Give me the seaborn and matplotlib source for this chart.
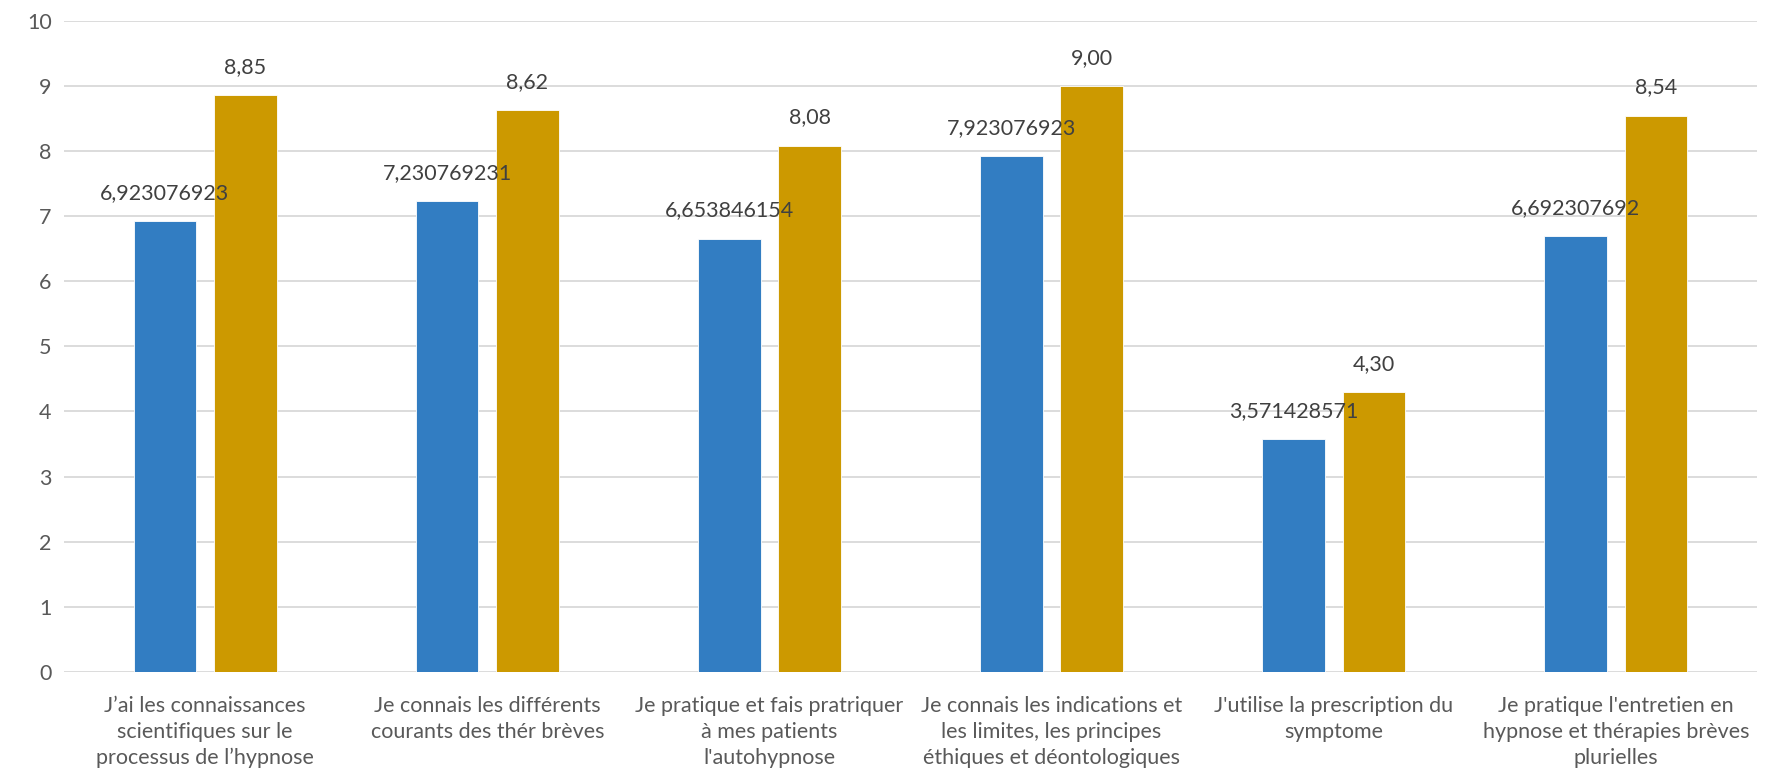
import seaborn as sns
import matplotlib.pyplot as plt
import pandas as pd

categories = [
    "J’ai les connaissances\nscientifiques sur le\nprocessus de l’hypnose",
    "Je connais les différents\ncourants des thér brèves",
    "Je pratique et fais pratriquer\nà mes patients\nl'autohypnose",
    "Je connais les indications et\nles limites, les principes\néthiques et déontologiques",
    "J'utilise la prescription du\nsymptome",
    "Je pratique l'entretien en\nhypnose et thérapies brèves\nplurielles",
]
series_1 = [6.923076923, 7.230769231, 6.653846154, 7.923076923, 3.571428571, 6.692307692]
series_2 = [8.85, 8.62, 8.08, 9.00, 4.30, 8.54]
series_names = ["Série 1", "Série 2"]

df = pd.DataFrame({
    "categorie": categories * 2,
    "valeur": series_1 + series_2,
    "serie": [series_names[0]] * len(categories) + [series_names[1]] * len(categories),
})

sns.set_style("white")
plt.rcParams["font.family"] = ["Lato", "DejaVu Sans"]
text_color = "#595959"

fig = plt.figure(figsize=(17.8, 7.75), dpi=100)
ax = fig.add_axes([0.036, 0.133, 0.951, 0.8405])

sns.barplot(data=df, x="categorie", y="valeur", hue="serie",
            palette=["#327DC2", "#CC9900"], saturation=1, width=0.57, gap=0.22,
            edgecolor="white", linewidth=0.6, legend=False, ax=ax)

ax.set_ylim(0, 10)
ax.set_xlim(-0.5, len(categories) - 0.5)
ax.set_yticks(range(0, 11))
ax.yaxis.grid(True, color="#D9D9D9", linewidth=1.3)
ax.set_axisbelow(True)
for s in ax.spines.values():
    s.set_visible(False)
ax.set_xlabel("")
ax.set_ylabel("")
ax.tick_params(axis="y", length=0, pad=9, labelsize=15.5, labelcolor=text_color)
ax.tick_params(axis="x", length=0, pad=17, labelsize=15.5, labelcolor=text_color)
for lbl in ax.get_xticklabels():
    lbl.set_linespacing(1.38)

labels_1 = [f"{v:.9f}".replace(".", ",") for v in series_1]
labels_2 = [f"{v:.2f}".replace(".", ",") for v in series_2]
ax.bar_label(ax.containers[0], labels=labels_1, padding=13, fontsize=15.5, color="#404040")
ax.bar_label(ax.containers[1], labels=labels_2, padding=13, fontsize=15.5, color="#404040")

plt.savefig("out.png", dpi=100)
plt.close()
